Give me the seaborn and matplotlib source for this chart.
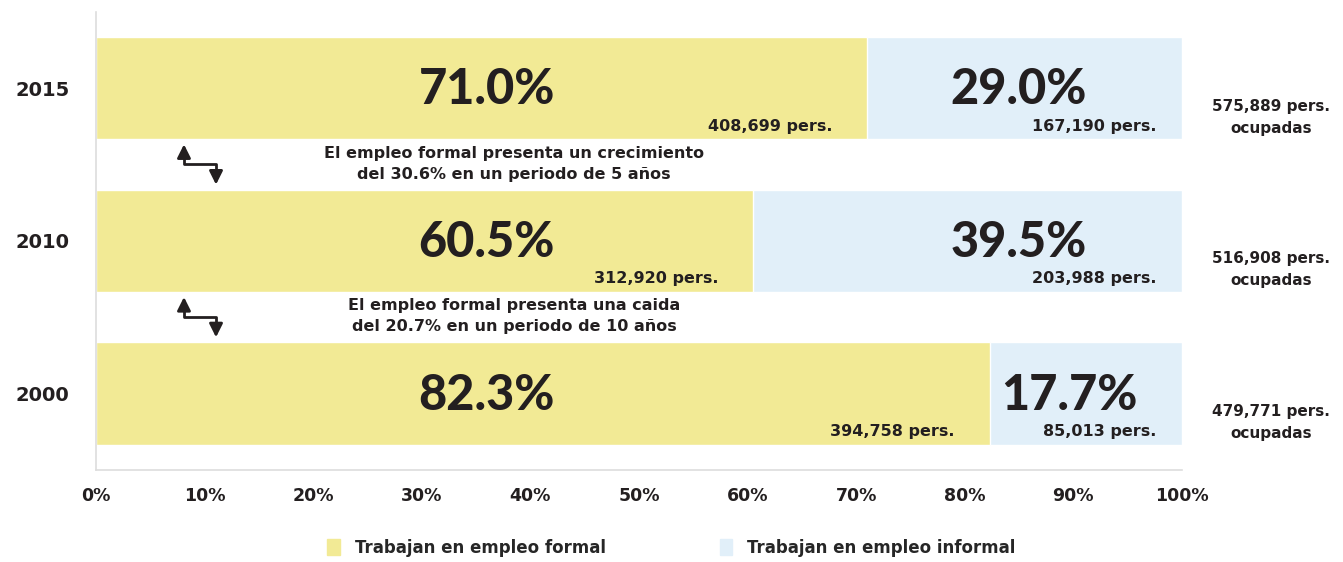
import matplotlib
matplotlib.use('Agg')
import matplotlib.pyplot as plt
import seaborn as sns
import pandas as pd

years = ['2015', '2010', '2000']
formal_pct = [71.0, 60.5, 82.3]
informal_pct = [29.0, 39.5, 17.7]
formal_pers = ['408,699', '312,920', '394,758']
informal_pers = ['167,190', '203,988', '85,013']
total_pers = ['575,889', '516,908', '479,771']
notes = ['El empleo formal presenta un crecimiento\ndel 30.6% en un periodo de 5 años',
         'El empleo formal presenta una caida\ndel 20.7% en un periodo de 10 años']
xticks = [0, 10, 20, 30, 40, 50, 60, 70, 80, 90, 100]
legend_labels = ['Trabajan en empleo formal', 'Trabajan en empleo informal']

yellow = '#F2EA95'
blue = '#E1EFF9'
dark = '#231F20'

sns.set_style('white')
plt.rcParams['font.family'] = ['DejaVu Sans']
plt.rcParams['font.weight'] = 'bold'
big_font = ['Lato', 'DejaVu Sans']

df = pd.DataFrame({'year': years, 'formal': formal_pct, 'informal': informal_pct})
df['total'] = df['formal'] + df['informal']

fig = plt.figure(figsize=(13.43, 5.62), dpi=100)
ax = fig.add_axes([0.0715, 0.164, 0.8085, 0.815])

# stacked bars: total (informal colour) underneath, formal on top
sns.barplot(data=df, x='total', y='year', color=blue, width=0.67, ax=ax, saturation=1, orient='h')
sns.barplot(data=df, x='formal', y='year', color=yellow, width=0.67, ax=ax, saturation=1, orient='h')

ax.set_xlim(0, 100)
ax.set_ylim(2.5, -0.5)
ax.set_xlabel('')
ax.set_ylabel('')

for i, row in df.iterrows():
    seg_mid = (row['formal'] + row['total']) / 2
    ax.text(36, i + 0.01, f"{row['formal']:.1f}%", ha='center', va='center',
            fontsize=35, fontweight='black', color=dark, family=big_font)
    ax.text(max(85, seg_mid - 1.5), i + 0.01, f"{row['informal']:.1f}%", ha='center', va='center',
            fontsize=35, fontweight='black', color=dark, family=big_font)
    ax.text(row['formal'] - 3.2, i + 0.25, formal_pers[i] + ' pers.', ha='right', va='center',
            fontsize=11.5, fontweight='bold', color=dark)
    ax.text(row['total'] - 2.3, i + 0.25, informal_pers[i] + ' pers.', ha='right', va='center',
            fontsize=11.5, fontweight='bold', color=dark)
    ax.text(108.2, i + 0.19, total_pers[i] + ' pers.\nocupadas', ha='center', va='center',
            fontsize=11, fontweight='bold', color=dark, linespacing=1.6, clip_on=False)

for k, note in enumerate(notes):
    yb = k + 0.5
    ax.text(38.5, yb - 0.005, note, ha='center', va='center', fontsize=11.5, fontweight='bold',
            color=dark, linespacing=1.5)
    ax.plot([8.1, 8.1, 11.05, 11.05], [yb - 0.06, yb, yb, yb + 0.06], color=dark, lw=2)
    ax.annotate('', xy=(8.1, yb - 0.15), xytext=(8.1, yb - 0.04),
                arrowprops=dict(arrowstyle='-|>', color=dark, lw=2, mutation_scale=20))
    ax.annotate('', xy=(11.05, yb + 0.15), xytext=(11.05, yb + 0.04),
                arrowprops=dict(arrowstyle='-|>', color=dark, lw=2, mutation_scale=20))

ax.set_xticks(xticks)
ax.set_xticklabels([f'{t}%' for t in xticks], fontsize=12.5, fontweight='bold', color=dark)
ax.set_yticks([0, 1, 2])
ax.set_yticklabels(years, fontsize=14, fontweight='bold', color=dark)
ax.set_yticks([-0.5, 0.5, 1.5], minor=True)
ax.tick_params(axis='y', which='major', length=0, pad=19)
ax.tick_params(axis='y', which='minor', direction='inout', length=8, color='#888888', width=1)
ax.tick_params(axis='x', direction='inout', length=9, color='#888888', width=1, pad=8)

for s in ['top', 'right']:
    ax.spines[s].set_visible(False)
for s in ['left', 'bottom']:
    ax.spines[s].set_color('#DDDDDD')
    ax.spines[s].set_linewidth(1.2)

handles = [plt.Rectangle((0, 0), 1, 1, color=yellow), plt.Rectangle((0, 0), 1, 1, color=blue)]
fig.legend(handles, legend_labels, loc='center', bbox_to_anchor=(0.5, 0.025), ncol=2, frameon=False,
           prop={'size': 12, 'weight': 'bold'}, handlelength=0.75, handleheight=1.1, columnspacing=6.85,
           handletextpad=0.9)

fig.savefig('out.png', dpi=100)
